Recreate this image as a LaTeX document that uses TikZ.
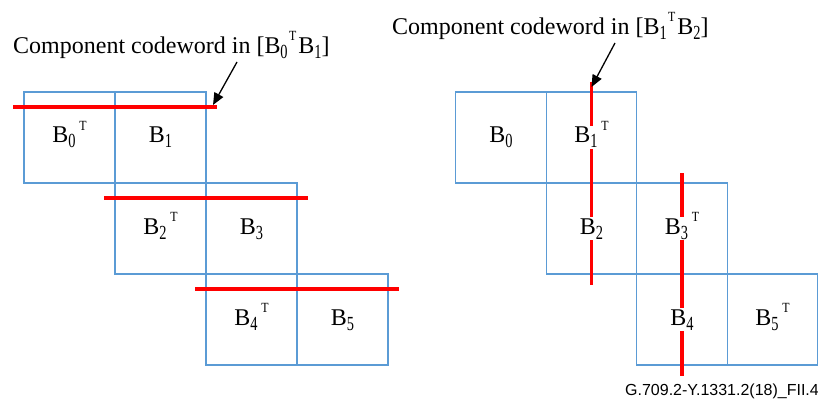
\documentclass[tikz,border=0pt]{standalone}
\usepackage{fontspec}
\setmainfont{Liberation Serif}
\newfontfamily\arialfont{Liberation Sans}
\usetikzlibrary{arrows.meta,calc}
\definecolor{cellblue}{RGB}{91,155,213}
\definecolor{cwred}{RGB}{255,0,0}
\newcommand\lo[1]{\raisebox{-5pt}{\scalebox{0.72}[1]{\fontsize{20}{20}\selectfont #1}}}
\newcommand\hi[1]{\smash{\raisebox{13pt}{\scalebox{0.85}[1]{\fontsize{14}{14}\selectfont #1}}}}
\begin{document}
\begin{tikzpicture}[x=1pt,y=-1pt,
  cell/.style={draw=cellblue,line width=1.2pt,minimum width=91pt,minimum height=91pt,inner sep=0pt,outer sep=0pt},
  rcell/.style={cell,minimum width=90.5pt},
  lab/.style={fill=white,inner sep=0.8pt,anchor=base,font=\fontsize{24}{24}\selectfont},
  cw/.style={draw=cwred,line width=3.5pt},
  callout/.style={font=\fontsize{24}{24}\selectfont,anchor=base west,inner sep=0pt},
  pointer/.style={draw=black,line width=1.3pt,-{Triangle[length=12pt,width=10pt]}}]
\useasboundingbox (0,0) rectangle (818,406);
% left grid
\node[cell] (l0) at (69.5,137.5) {};
\node[cell] (l1) at (160.5,137.5) {};
\node[cell] (l2) at (160.5,228.5) {};
\node[cell] (l3) at (251.5,228.5) {};
\node[cell] (l4) at (251.5,319.5) {};
\node[cell] (l5) at (342.5,319.5) {};
% right grid
\node[rcell] (r0) at (501,137.5) {};
\node[rcell] (r1) at (591.5,137.5) {};
\node[rcell] (r2) at (591.5,228.5) {};
\node[rcell] (r3) at (682,228.5) {};
\node[rcell] (r4) at (682,319.5) {};
\node[rcell] (r5) at (772.5,319.5) {};
% component codewords
\draw[cw] ($(l0.north west)+(-11,15)$) coordinate (h1s) -- ($(l1.north east)+(11,15)$) coordinate (h1e);
\draw[cw] ($(l2.north west)+(-11,15)$) coordinate (h2s) -- ($(l3.north east)+(11,15)$) coordinate (h2e);
\draw[cw] ($(l4.north west)+(-11,15)$) coordinate (h3s) -- ($(l5.north east)+(11,15)$) coordinate (h3e);
\draw[cw] ($(r1.north)+(0,-10)$) coordinate (v1s) -- ($(r2.south)+(0,11)$) coordinate (v1e);
\draw[cw] ($(r3.north)+(0,-10)$) coordinate (v2s) -- ($(r4.south)+(0,11)$) coordinate (v2e);
% cell labels
\node[lab] (tl0) at ($(l0.center)+(0,5.5)$) {B\lo{0}\,\hi{T}};
\node[lab] (tl1) at ($(l1.center)+(0,5.5)$) {B\lo{1}};
\node[lab] (tl2) at ($(l2.center)+(0,5.5)$) {B\lo{2}\,\hi{T}};
\node[lab] (tl3) at ($(l3.center)+(0,5.5)$) {B\lo{3}};
\node[lab] (tl4) at ($(l4.center)+(0,5.5)$) {B\lo{4}\,\hi{T}};
\node[lab] (tl5) at ($(l5.center)+(0,5.5)$) {B\lo{5}};
\node[lab] (tr0) at ($(r0.center)+(0,5.5)$) {B\lo{0}};
\node[lab] (tr1) at ($(r1.center)+(0,5.5)$) {B\lo{1}\,\hi{T}};
\node[lab] (tr2) at ($(r2.center)+(0,5.5)$) {B\lo{2}};
\node[lab] (tr3) at ($(r3.center)+(0,5.5)$) {B\lo{3}\,\hi{T}};
\node[lab] (tr4) at ($(r4.center)+(0,5.5)$) {B\lo{4}};
\node[lab] (tr5) at ($(r5.center)+(0,5.5)$) {B\lo{5}\,\hi{T}};
% callouts
\node[callout] (c1) at (13,54) {Component codeword in [B\lo{0}\kern1.5pt\hi{T}\kern2pt B\lo{1}]};
\node[callout] (c2) at (392,35) {Component codeword in [B\lo{1}\kern1.5pt\hi{T}\kern2pt B\lo{2}]};
\draw[pointer] ($(c1.base west)+(224,8)$) -- ($(h1e)+(-4,-2)$);
\draw[pointer] ($(c2.base west)+(223,8)$) -- ($(v1s)+(0,5)$);
% figure id
\node[anchor=base east,font=\arialfont\fontsize{16}{16}\selectfont,inner sep=0pt] (fig) at (819,395) {G.709.2-Y.1331.2(18)\_FII.4};
\end{tikzpicture}
\end{document}
